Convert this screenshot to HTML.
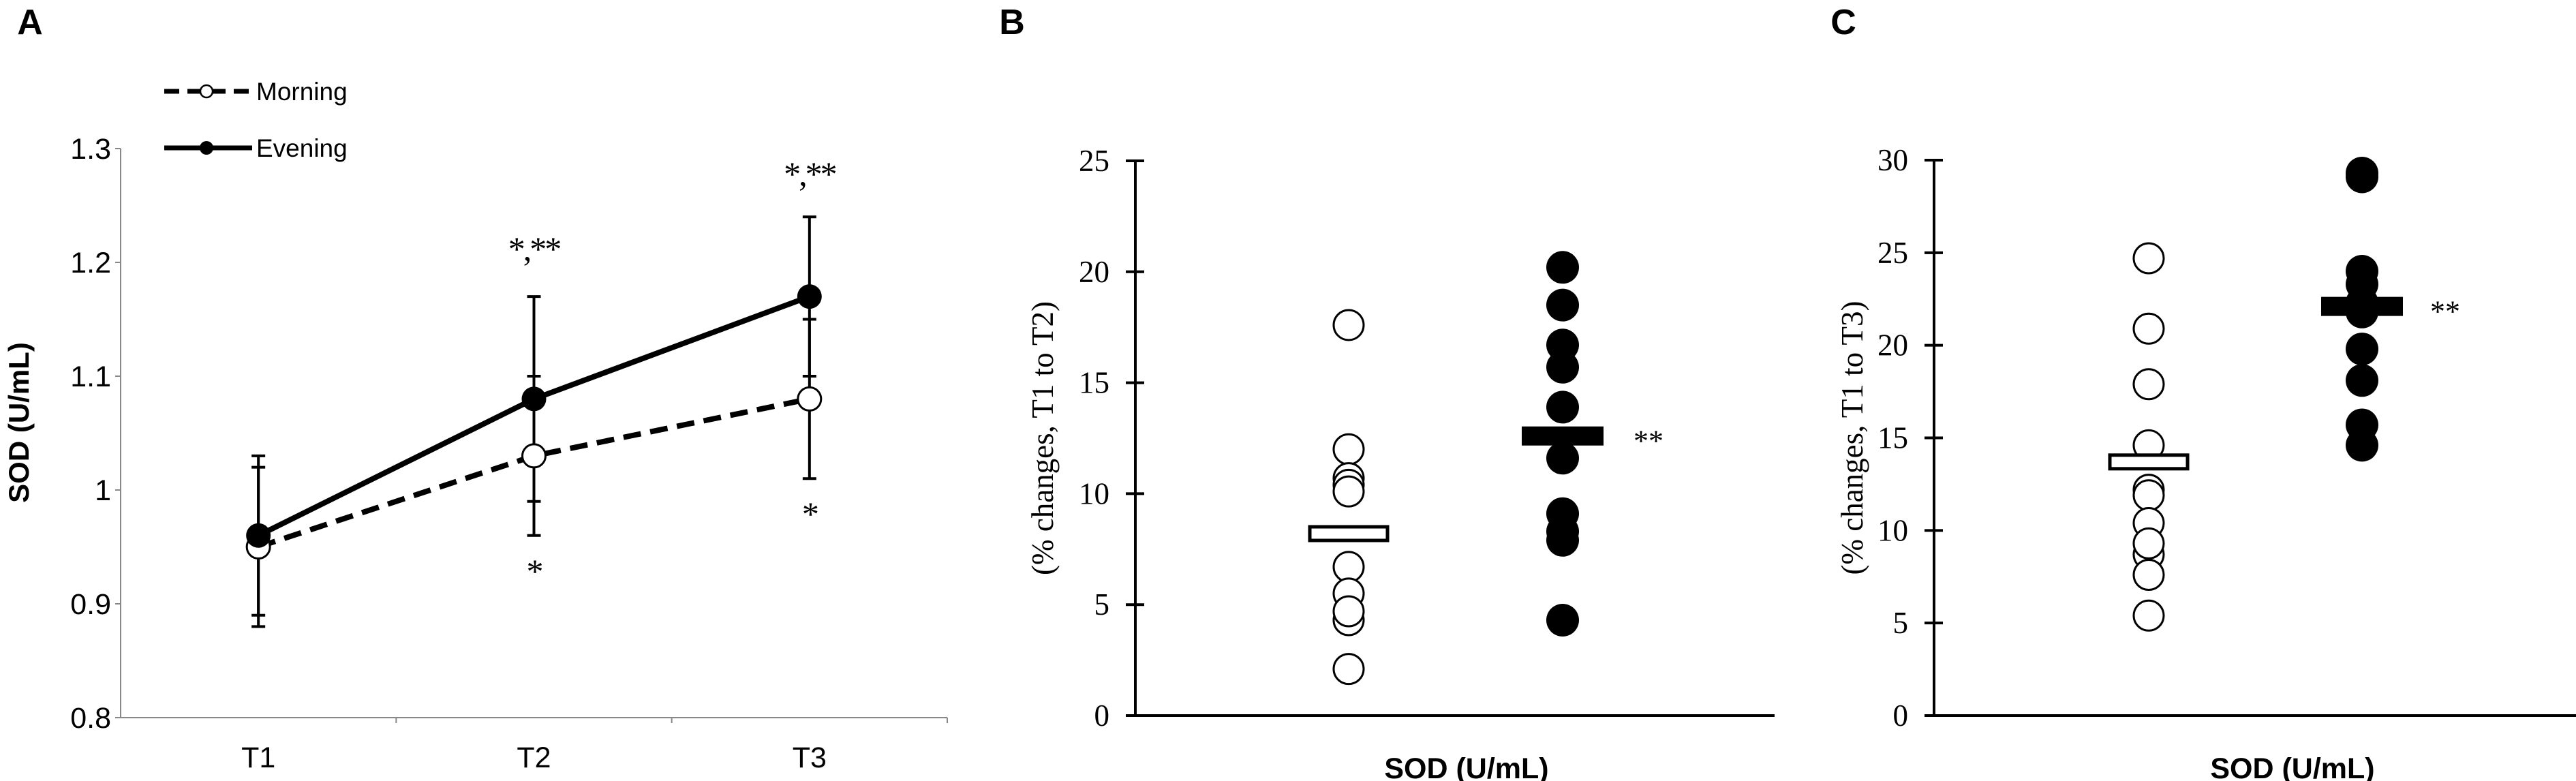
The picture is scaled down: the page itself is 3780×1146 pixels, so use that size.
<!DOCTYPE html>
<html><head><meta charset="utf-8"><style>
html,body{margin:0;padding:0;background:#fff}
svg{display:block}
.sans{font-family:"Liberation Sans",Arial,sans-serif}
.serif{font-family:"Liberation Serif","Times New Roman",serif}
</style></head><body>
<svg id="fig" width="3780" height="1146" viewBox="0 0 3780 1146" xmlns="http://www.w3.org/2000/svg">
<text x="44" y="50" class="sans" font-size="52" font-weight="bold" text-anchor="middle">A</text>
<text x="1485" y="50" class="sans" font-size="52" font-weight="bold" text-anchor="middle">B</text>
<text x="2705" y="50" class="sans" font-size="52" font-weight="bold" text-anchor="middle">C</text>
<g id="pa"></g>
<g id="pb"></g>
<g id="pc"></g>
</svg>
<script>
// Panel A data
const aCategories = ["T1","T2","T3"];
const aMorning = [0.95, 1.03, 1.08];
const aMorningErr = [0.07, 0.07, 0.07];
const aEvening = [0.96, 1.08, 1.17];
const aEveningErr = [0.07, 0.09, 0.07];
const aTicks = [0.8, 0.9, 1, 1.1, 1.2, 1.3];
const aTickLabels = ["0.8","0.9","1","1.1","1.2","1.3"];
// Panel B data
const bMorning = [17.6, 12.0, 10.7, 10.4, 10.1, 6.7, 5.5, 4.3, 4.7, 2.1];
const bEvening = [20.2, 18.5, 16.7, 15.7, 13.9, 11.6, 9.1, 8.3, 7.9, 4.3];
const bMeans = [8.2, 12.6];
const bTicks = [0, 5, 10, 15, 20, 25];
// Panel C data
const cMorning = [24.7, 20.9, 17.9, 14.6, 12.2, 11.9, 10.4, 8.7, 9.3, 7.6, 5.4];
const cEvening = [29.3, 29.1, 24.0, 23.3, 22.3, 21.8, 19.8, 18.1, 15.7, 14.6];
const cMeans = [13.7, 22.1];
const cTicks = [0, 5, 10, 15, 20, 25, 30];

const NS = "http://www.w3.org/2000/svg";
function mk(parent, tag, attrs, text) {
  const e = document.createElementNS(NS, tag);
  for (const k in attrs) e.setAttribute(k, attrs[k]);
  if (text !== undefined) e.textContent = text;
  parent.appendChild(e);
  return e;
}

// ---------- Panel A ----------
(function(){
  const g = document.getElementById('pa');
  const x0 = 177, x1 = 1390, yTop = 218, yBot = 1053;
  const band = (x1 - x0) / aCategories.length;
  const X = i => x0 + band * (i + 0.5);
  const Y = v => yBot - (v - 0.8) / 0.5 * (yBot - yTop);
  let e = mk(g, 'line', {x1:x0, y1:yTop, x2:x0, y2:yBot, stroke:'#888', 'stroke-width':2});
   
  e = mk(g, 'line', {x1:x0, y1:yBot, x2:x1, y2:yBot, stroke:'#888', 'stroke-width':2});
   
  aTicks.forEach((t, i) => {
    mk(g, 'line', {x1:x0-8, y1:Y(t), x2:x0, y2:Y(t), stroke:'#888', 'stroke-width':2});
    const tl = mk(g, 'text', {x:x0-14, y:Y(t)+15, 'font-size':43, 'text-anchor':'end', class:'sans'}, aTickLabels[i]);
     
  });
  for (let i = 1; i <= aCategories.length; i++) mk(g, 'line', {x1:x0+band*i, y1:yBot, x2:x0+band*i, y2:yBot+8, stroke:'#888', 'stroke-width':2});
  aCategories.forEach((c, i) => {
    const tl = mk(g, 'text', {x:X(i), y:1126, 'font-size':43, 'text-anchor':'middle', class:'sans'}, c);
     
  });
  const yt = mk(g, 'text', {x:0, y:0, transform:'translate(42,620) rotate(-90)', 'font-size':42, 'font-weight':'bold', 'text-anchor':'middle', class:'sans'}, 'SOD (U/mL)');
   
  function errs(vals, er, name) {
    vals.forEach((v, i) => {
      const eg = mk(g, 'g', {stroke:'#000', 'stroke-width':4});
       
      mk(eg, 'line', {x1:X(i), y1:Y(v-er[i]), x2:X(i), y2:Y(v+er[i])});
      mk(eg, 'line', {x1:X(i)-10, y1:Y(v-er[i]), x2:X(i)+10, y2:Y(v-er[i])});
      mk(eg, 'line', {x1:X(i)-10, y1:Y(v+er[i]), x2:X(i)+10, y2:Y(v+er[i])});
    });
  }
  errs(aMorning, aMorningErr, 'morning-error-bar');
  errs(aEvening, aEveningErr, 'evening-error-bar');
  const pm = mk(g, 'polyline', {points:aMorning.map((v,i)=>X(i)+','+Y(v)).join(' '), fill:'none', stroke:'#000', 'stroke-width':8, 'stroke-dasharray':'26,14'});
   
  const pe = mk(g, 'polyline', {points:aEvening.map((v,i)=>X(i)+','+Y(v)).join(' '), fill:'none', stroke:'#000', 'stroke-width':8});
   
  aMorning.forEach((v, i) => {
    const c = mk(g, 'circle', {cx:X(i), cy:Y(v), r:17, fill:'#fff', stroke:'#000', 'stroke-width':3});
     
  });
  aEvening.forEach((v, i) => {
    const c = mk(g, 'circle', {cx:X(i), cy:Y(v), r:18, fill:'#000'});
     
  });
  const ann = [[1, 382, '*,**'], [2, 272, '*,**'], [1, 855, '*'], [2, 771, '*']];
  ann.forEach(a => {
    const t = mk(g, 'text', {x:X(a[0]), y:a[1], 'font-size':50, 'text-anchor':'middle', 'letter-spacing':'-3', class:'serif'}, a[2]);
     
  });
  const lg = mk(g, 'g', {});
   
  mk(lg, 'line', {x1:241, y1:134, x2:370, y2:134, stroke:'#000', 'stroke-width':7, 'stroke-dasharray':'22,12'});
  mk(lg, 'circle', {cx:303, cy:134, r:9, fill:'#fff', stroke:'#000', 'stroke-width':2.5});
  mk(lg, 'text', {x:376, y:147, 'font-size':37, class:'sans'}, 'Morning');
  mk(lg, 'line', {x1:241, y1:217, x2:370, y2:217, stroke:'#000', 'stroke-width':7});
  mk(lg, 'circle', {cx:303, cy:217, r:10, fill:'#000'});
  mk(lg, 'text', {x:376, y:230, 'font-size':37, class:'sans'}, 'Evening');
})();

// ---------- Panels B & C ----------
function scatterPanel(id, ax, axRight, yTop, yBot, ticks, morning, evening, means, xm, xe, starX, ytitle, ytX, xtX) {
  const g = document.getElementById(id);
  const maxT = ticks[ticks.length-1];
  const Y = v => yBot - v / maxT * (yBot - yTop);
  let e = mk(g, 'line', {x1:ax, y1:yTop, x2:ax, y2:yBot, stroke:'#000', 'stroke-width':4});
   
  e = mk(g, 'line', {x1:ax, y1:yBot, x2:axRight, y2:yBot, stroke:'#000', 'stroke-width':4});
   
  ticks.forEach(t => {
    mk(g, 'line', {x1:ax-14, y1:Y(t), x2:ax+13, y2:Y(t), stroke:'#000', 'stroke-width':4});
    const tl = mk(g, 'text', {x:ax-38, y:Y(t)+15, 'font-size':45, 'text-anchor':'end', class:'serif'}, String(t));
     
  });
  const yt = mk(g, 'text', {x:0, y:0, transform:'translate('+ytX+','+(yBot+yTop)/2+') rotate(-90)', 'font-size':45, 'text-anchor':'middle', class:'serif'}, ytitle);
   
  const xt = mk(g, 'text', {x:xtX, y:1142, 'font-size':43, 'font-weight':'bold', 'text-anchor':'middle', class:'sans'}, 'SOD (U/mL)');
   
  morning.forEach(v => {
    const c = mk(g, 'circle', {cx:xm, cy:Y(v), r:22, fill:'#fff', stroke:'#000', 'stroke-width':3});
     
  });
  evening.forEach(v => {
    const c = mk(g, 'circle', {cx:xe, cy:Y(v), r:24, fill:'#000'});
     
  });
  const mm = mk(g, 'rect', {x:xm-57, y:Y(means[0])-10, width:114, height:20, fill:'#fff', stroke:'#000', 'stroke-width':5});
   
  const em = mk(g, 'rect', {x:xe-60, y:Y(means[1])-14, width:120, height:28, fill:'#000'});
   
  const s = mk(g, 'text', {x:starX, y:Y(means[1])+22, 'font-size':44, class:'serif'}, '**');
   
}
scatterPanel('pb', 1666, 2604, 236, 1050, bTicks, bMorning, bEvening, bMeans, 1979, 2293, 2397, '(% changes, T1 to T2)', 1545, 2152);
scatterPanel('pc', 2838, 3780, 235, 1050, cTicks, cMorning, cEvening, cMeans, 3153, 3466, 3566, '(% changes, T1 to T3)', 2733, 3364);
</script>
</body></html>
